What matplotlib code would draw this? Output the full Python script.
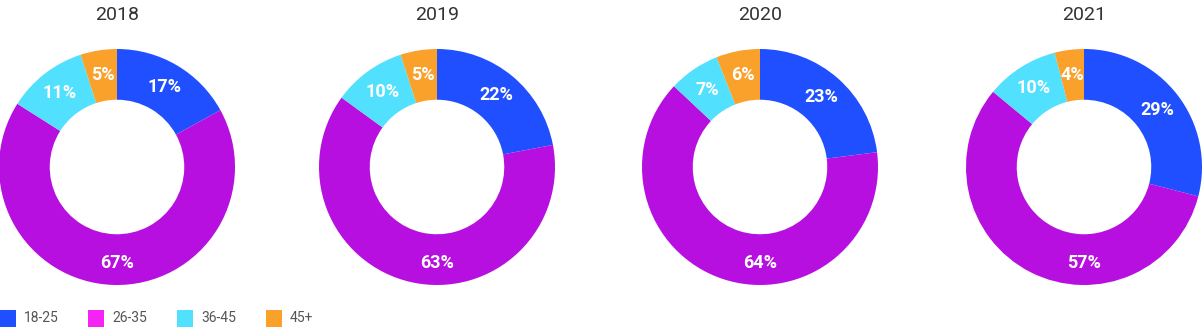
import matplotlib.pyplot as plt
from matplotlib.patches import Rectangle

years = ["2018", "2019", "2020", "2021"]
groups = ["18-25", "26-35", "36-45", "45+"]
shares = [
    [17, 67, 11, 5],
    [22, 63, 10, 5],
    [23, 64, 7, 6],
    [29, 57, 10, 4],
]
colors = ["#1f4fff", "#b70fe0", "#52e0ff", "#f9a12b"]
legend_colors = ["#1f4fff", "#f524f5", "#52e0ff", "#f9a12b"]

plt.rcParams["font.family"] = ["Roboto", "DejaVu Sans"]

W, H = 1202, 327
fig = plt.figure(figsize=(W / 100, H / 100), dpi=100)

centers = [117, 437, 760, 1084]
cy = 167
r = 118
lab_r = 0.79
for i in range(4):
    cx = centers[i]
    ax = fig.add_axes([(cx - r) / W, 1 - (cy + r) / H, 2 * r / W, 2 * r / H])
    wedges, texts, autotexts = ax.pie(
        shares[i], colors=colors, startangle=90, counterclock=False,
        radius=1, pctdistance=lab_r, autopct="%d%%",
        wedgeprops=dict(width=0.43, linewidth=0),
    )
    for t in autotexts:
        t.set_color("white")
        t.set_fontsize(13)
        t.set_fontweight("bold")
    # the big 26-35 label sits straight under the hole
    autotexts[1].set_position((0, -0.81))
    ax.set_xlim(-1, 1)
    ax.set_ylim(-1, 1)
    ax.set_aspect("equal")
    fig.text(cx / W, 1 - 15 / H, years[i], ha="center", va="center",
             fontsize=14, color="#333333")

# legend row along the bottom
leg_x = [0, 88, 177, 266]
for x, c, g in zip(leg_x, legend_colors, groups):
    fig.patches.append(Rectangle((x / W, 1 - 327 / H), 16 / W, 17 / H,
                                 transform=fig.transFigure, color=c, lw=0))
    fig.text((x + 24) / W, 1 - 318 / H, g, ha="left", va="center",
             fontsize=10, color="#555555")

fig.savefig("out.png", dpi=100)
